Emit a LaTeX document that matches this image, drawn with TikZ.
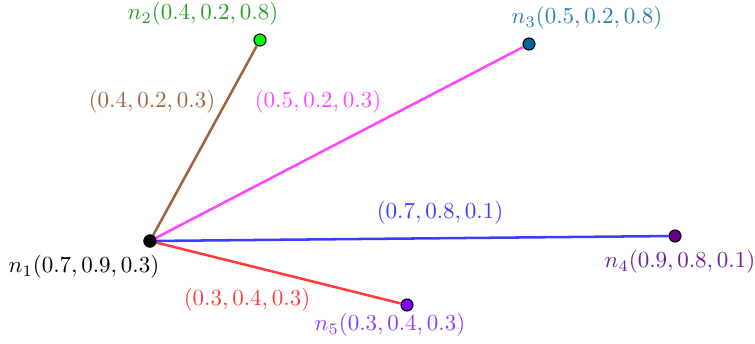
\documentclass[tikz,border=0pt]{standalone}
\usepackage{tikz}
\usetikzlibrary{positioning}

\definecolor{vertN2}{RGB}{0,255,0}
\definecolor{texteN2}{RGB}{40,160,40}
\definecolor{bleuN3}{RGB}{0,100,150}
\definecolor{texteN3}{RGB}{40,130,170}
\definecolor{violetN4}{RGB}{100,0,140}
\definecolor{texteN4}{RGB}{110,30,150}
\definecolor{violetN5}{RGB}{130,0,255}
\definecolor{texteN5}{RGB}{140,60,255}
\definecolor{brun}{RGB}{160,100,60}
\definecolor{rose}{RGB}{255,70,255}
\definecolor{bleu}{RGB}{60,60,255}
\definecolor{rouge}{RGB}{255,60,60}

\begin{document}
\begin{tikzpicture}[
                x=0.435pt, y=-0.435pt,
                sommet/.style={circle, draw=black, line width=0.5pt, inner sep=0pt, minimum size=5.2pt},
                arete/.style={line width=1.1pt}
            ]
            \useasboundingbox (0,0) rectangle (755,344);

            % Sommets
            \node[sommet, fill=black] (n1) at (150,241) {};
            \node[sommet, fill=vertN2] (n2) at (260,40) {};
            \node[sommet, fill=bleuN3] (n3) at (529,44) {};
            \node[sommet, fill=violetN4] (n4) at (675,236) {};
            \node[sommet, fill=violetN5] (n5) at (407,305) {};

            % Aretes
            \draw[arete, brun] (n1) -- (n2);
            \draw[arete, rose] (n1) -- (n3);
            \draw[arete, bleu] (n1) -- (n4);
            \draw[arete, rouge] (n1) -- (n5);
            \node[sommet, fill=black] at (n1) {};

            % Etiquettes des sommets
            \node[black] (l1) at (84,267) {$n_1(0.7,0.9,0.3)$};
            \node[texteN2] (l2) at (203,14) {$n_2(0.4,0.2,0.8)$};
            \node[texteN3] (l3) at (587,18) {$n_3(0.5,0.2,0.8)$};
            \node[texteN4] (l4) at (680,262) {$n_4(0.9,0.8,0.1)$};
            \node[texteN5] (l5) at (390,325) {$n_5(0.3,0.4,0.3)$};

            % Etiquettes des aretes
            \node[brun] (e2) at (152,102) {$(0.4,0.2,0.3)$};
            \node[rose] (e3) at (318,102) {$(0.5,0.2,0.3)$};
            \node[bleu] (e4) at (440,213) {$(0.7,0.8,0.1)$};
            \node[rouge] (e5) at (247,300) {$(0.3,0.4,0.3)$};
        \end{tikzpicture}
\end{document}
